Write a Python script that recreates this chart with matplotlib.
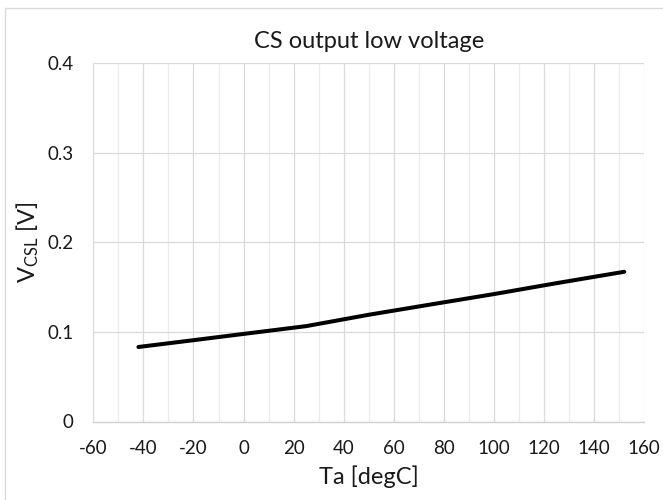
import matplotlib
matplotlib.use("Agg")
import matplotlib.pyplot as plt
from matplotlib.patches import Rectangle
from matplotlib.ticker import MultipleLocator

plt.rcParams['font.family'] = ['Lato', 'DejaVu Sans']
plt.rcParams['mathtext.fontset'] = 'custom'
plt.rcParams['mathtext.rm'] = 'Lato'
plt.rcParams['mathtext.it'] = 'Lato'

# Measured CS output low voltage versus ambient temperature
temperature = [-42, -20, 0, 25, 50, 75, 100, 125, 152]
vcsl = [0.0832, 0.0908, 0.0978, 0.1065, 0.1192, 0.1308, 0.1423, 0.1545, 0.1672]

x_ticks = [-60, -40, -20, 0, 20, 40, 60, 80, 100, 120, 140, 160]
y_ticks = [0, 0.1, 0.2, 0.3, 0.4]
y_tick_labels = ['0', '0.1', '0.2', '0.3', '0.4']

W, H = 663, 500
fig = plt.figure(figsize=(W / 100, H / 100), dpi=100)
fig.patch.set_facecolor('white')

# chart-area frame
fig.patches.append(Rectangle((5.3 / W, -0.1), 1.2, 1 - 8.3 / H + 0.1,
                             transform=fig.transFigure, fill=False,
                             edgecolor='#d9d9d9', linewidth=1.0))

ax = fig.add_axes([93.3 / W, 1 - 421.5 / H, (644.3 - 93.3) / W, (421.5 - 63.3) / H])

ax.plot(temperature, vcsl, color='black', linewidth=2.9,
        solid_capstyle='round', solid_joinstyle='round', zorder=3)

ax.set_xlim(-60, 160)
ax.set_ylim(0, 0.4)
ax.set_xticks(x_ticks)
ax.set_xticklabels([str(t) for t in x_ticks])
ax.set_yticks(y_ticks)
ax.set_yticklabels(y_tick_labels)
ax.xaxis.set_minor_locator(MultipleLocator(10))

ax.grid(True, which='major', axis='both', color='#d9d9d9', linewidth=0.9, zorder=0)
ax.grid(True, which='minor', axis='x', color='#ececec', linewidth=0.9, zorder=0)

for side in ('top', 'right', 'left'):
    ax.spines[side].set_visible(False)
ax.spines['bottom'].set_color('#d0d0d0')
ax.spines['bottom'].set_linewidth(1.0)

ax.tick_params(axis='both', which='both', length=0, labelsize=13.5, colors='#1a1a1a')
ax.tick_params(axis='x', pad=13)
ax.tick_params(axis='y', pad=14)

ax.set_title('CS output low voltage', fontsize=17, color='#1a1a1a', pad=11)
ax.set_xlabel('Ta [degC]', fontsize=17, color='#1a1a1a', labelpad=6)
ax.set_ylabel(r'V$_{\mathrm{CSL}}$ [V]', fontsize=17, color='#1a1a1a', labelpad=5)

fig.savefig('out.png', dpi=100, facecolor='white')
